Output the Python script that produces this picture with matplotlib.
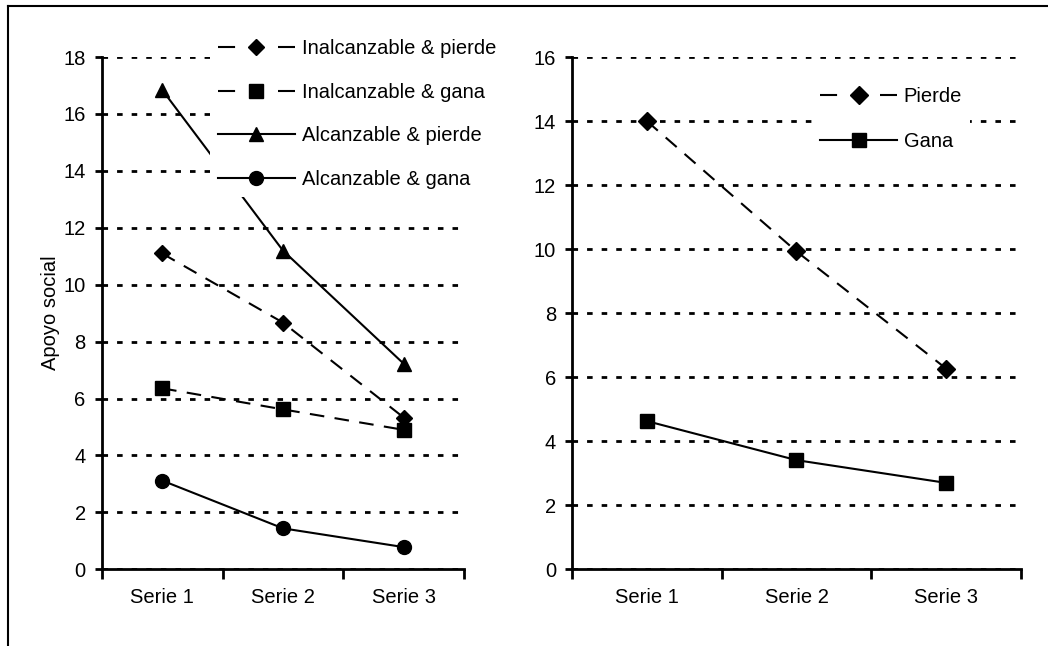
import matplotlib
matplotlib.use('Agg')
import matplotlib.pyplot as plt
from matplotlib.lines import Line2D

plt.rcParams['font.family'] = ['Liberation Sans', 'DejaVu Sans']
plt.rcParams['font.size'] = 14.5

series = ['Serie 1', 'Serie 2', 'Serie 3']

# panel izquierdo
inalc_pierde = [11.1, 8.67, 5.33]
inalc_gana = [6.36, 5.62, 4.9]
alc_pierde = [16.85, 11.2, 7.22]
alc_gana = [3.12, 1.44, 0.78]

# panel derecho
pierde = [14.0, 9.93, 6.27]
gana = [4.63, 3.41, 2.7]

dashed = (0, (7, 5))
# en la leyenda: un trazo a cada lado del marcador
dashed_leg = (0, (8.2, 20.6))


def setup_axis(ax, ymax):
    ax.set_xlim(0, len(series))
    ax.set_ylim(0, ymax)
    ax.set_yticks(range(0, ymax + 1, 2))
    ax.set_xticks(range(len(series) + 1))
    ax.set_xticklabels([])
    ax.set_xticks([i + 0.5 for i in range(len(series))], minor=True)
    ax.set_xticklabels(series, minor=True)
    ax.tick_params(axis='x', which='major', direction='out', length=7, width=2)
    ax.tick_params(axis='x', which='minor', length=0, pad=13.5)
    ax.tick_params(axis='y', direction='out', length=5, width=2, pad=6.5)
    for s in ['top', 'right']:
        ax.spines[s].set_visible(False)
    for s in ['left', 'bottom']:
        ax.spines[s].set_linewidth(2)
    ax.grid(axis='y', color='black', linestyle=(0, (2.0, 3.25)), linewidth=2.0)


def legend_handle(ls, marker, ms):
    return Line2D([], [], color='black', lw=1.5, ls=ls, marker=marker, ms=ms)


fig = plt.figure(figsize=(10.48, 6.46), dpi=100)
ax1 = fig.add_axes([0.097, 0.1187, 0.346, 0.793])
ax2 = fig.add_axes([0.5458, 0.1187, 0.4284, 0.793])

x = [0.5, 1.5, 2.5]

ax1.plot(x, inalc_pierde, color='black', lw=1.5, ls=dashed, marker='D', ms=8.5)
ax1.plot(x, inalc_gana, color='black', lw=1.5, ls=dashed, marker='s', ms=10)
ax1.plot(x, alc_pierde, color='black', lw=1.5, marker='^', ms=10.5)
ax1.plot(x, alc_gana, color='black', lw=1.5, marker='o', ms=10)
setup_axis(ax1, 18)
ax1.set_ylabel('Apoyo social')
ax1.yaxis.set_label_coords(-0.115, 0.5)

ax2.plot(x, pierde, color='black', lw=1.5, ls=dashed, marker='D', ms=9)
ax2.plot(x, gana, color='black', lw=1.5, marker='s', ms=10.5)
setup_axis(ax2, 16)

leg_opts = dict(loc='upper left', bbox_transform=fig.transFigure, borderaxespad=0,
                frameon=True, facecolor='white', edgecolor='none', framealpha=1,
                fancybox=False, handlelength=3.8, handletextpad=0.35, numpoints=1)

h1 = [legend_handle(dashed_leg, 'D', 8.5), legend_handle(dashed_leg, 's', 10),
      legend_handle('-', '^', 10.5), legend_handle('-', 'o', 10)]
ax1.legend(h1, ['Inalcanzable & pierde', 'Inalcanzable & gana',
                'Alcanzable & pierde', 'Alcanzable & gana'],
           bbox_to_anchor=(0.2004, 0.952), labelspacing=1.22, **leg_opts)

h2 = [legend_handle(dashed_leg, 'D', 9), legend_handle('-', 's', 10.5)]
ax2.legend(h2, ['Pierde', 'Gana'], bbox_to_anchor=(0.775, 0.878),
           labelspacing=1.3, **leg_opts)

# marco exterior
fig.add_artist(Line2D([8 / 1048, 1], [1 - 6 / 646, 1 - 6 / 646], color='black', lw=1.5))
fig.add_artist(Line2D([8 / 1048, 8 / 1048], [0, 1 - 6 / 646], color='black', lw=1.5))

fig.savefig('out.png', dpi=100)
